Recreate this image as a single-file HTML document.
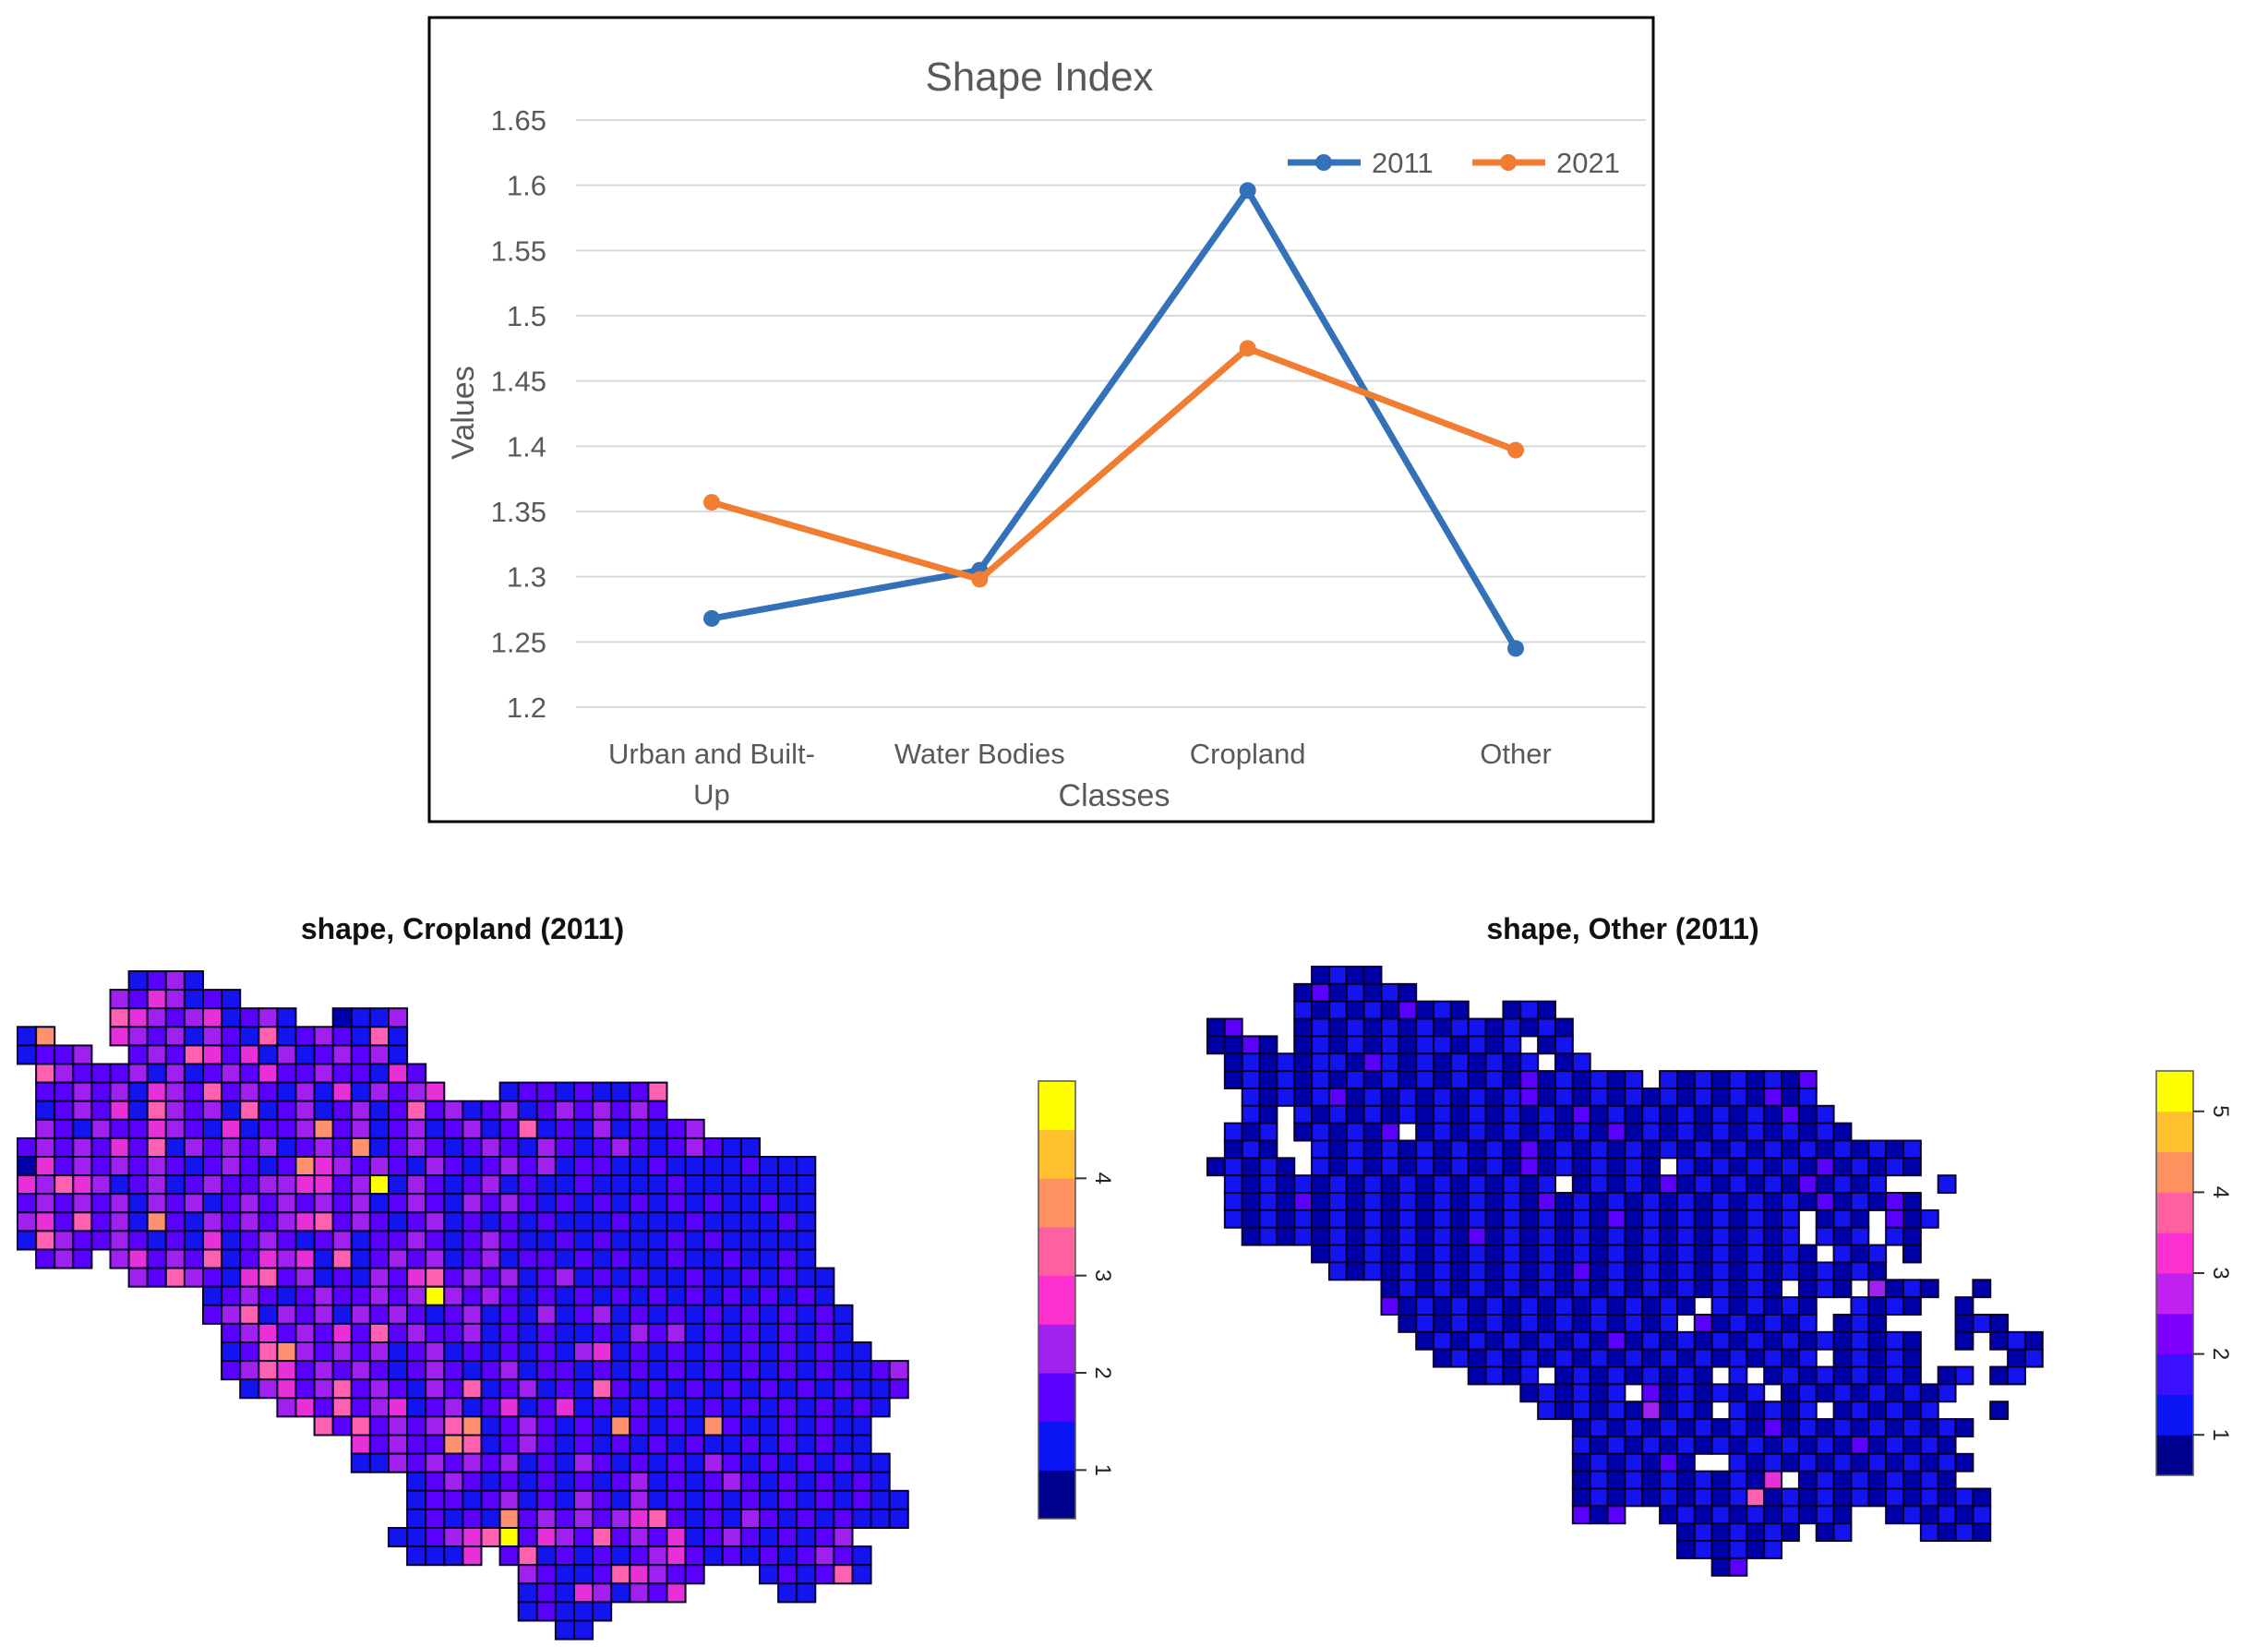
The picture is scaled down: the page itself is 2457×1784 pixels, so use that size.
<!DOCTYPE html>
<html><head><meta charset="utf-8"><style>
html,body{margin:0;padding:0;background:#fff;}
svg{display:block;font-family:"Liberation Sans",sans-serif;}
</style></head><body>
<svg id="root" width="2457" height="1784" viewBox="0 0 2457 1784" xmlns="http://www.w3.org/2000/svg">
<rect x="465" y="19" width="1326" height="871" fill="#fff" stroke="#000" stroke-width="3"/>
<g id="chart"></g>
<g id="mapL"></g>
<g id="mapR"></g>
</svg>
<script>
const categories = ["Urban and Built-Up", "Water Bodies", "Cropland", "Other"];
const series2011 = [1.268, 1.305, 1.596, 1.245];
const series2021 = [1.357, 1.298, 1.475, 1.397];
const yTicks = [1.2, 1.25, 1.3, 1.35, 1.4, 1.45, 1.5, 1.55, 1.6, 1.65];
const yTickLabels = ["1.2", "1.25", "1.3", "1.35", "1.4", "1.45", "1.5", "1.55", "1.6", "1.65"];

// cropland map: per row, column spans (grid indices) and cell value levels
const cropSpans = [
[[6,9]],[[5,11]],[[5,14],[17,20]],[[0,1],[5,20]],[[0,3],[6,20]],[[1,21]],[[1,22],[26,34]],[[1,34]],[[1,36]],[[0,39]],
[[0,42]],[[0,42]],[[0,42]],[[0,42]],[[0,42]],[[1,3],[5,42]],[[6,43]],[[10,43]],[[10,44]],[[11,44]],
[[11,45]],[[11,47]],[[12,47]],[[14,46]],[[16,45]],[[18,45]],[[18,46]],[[21,46]],[[21,47]],[[21,47]],
[[20,44]],[[21,24],[26,45]],[[27,36],[40,45]],[[27,35],[41,42]],[[27,31]],[[29,30]]
];
const cropValues = [
"......2342",
".....4354232",
".....6543452342..1224",
"27...5434243262343262",
"2334..343653524234342",
".643334242343533433253",
".3343425436343242524345...233232236",
".2343526434262342342363423423434343",
".432433543252334734234234236232423234",
"3434353624343423437234323432432343234322",
"1534343432343237543432432343423322322223222",
"5465423423433445534924323423223222232222222",
"3434342434234343434234324343232323232322322",
"4536342732434345634323423232322232223222232",
"2643343232523432342334323432232322232322222",
".343.45343623545262343423423323232232232232",
"......43643256342324356343423423232232232322",
"..........23432343343494343232323232323232323",
"..........34624342434323423242342323232323232",
"...........34534353634334232322324342323232323232",
"...........23674343423423232324523232323232322",
"...........3465343432343234233232323232323232234",
"............245346343243623423263232323232323223",
"..............453634523423523523232323232323232",
"................636343467234323273232732232322",
"..................5343376234323232323223232322",
"..................22434343423243232324323232322",
".....................23432323232342323432323232",
".....................233234232432423232323232322",
".....................232327343434563232432323222",
"....................223456935436343523432323423234",
".....................2225.36232323453232323432",
"...........................4322365433...232362",
"...........................232542435.....22",
"...........................23222",
".............................22"
];
const otherRows = [
"......1211",
".....1312121",
".....2121213121..121",
"13...1212121212212121",
"1131.1212121221212.12",
".121212213212121212.12",
".121212121212121213121212.212121213",
"..212123121212121231212121212121312",
"..21.2121212121212121312121212121312",
".212.121213.1212121212131212121212121",
".121..21212121212131212121212121212121212",
"12121.21212121212131212121.21212121312121",
".2121212121212121212.121213121212131212...2",
".2121312121212121213121212121212121312131",
".212121212121212121212131212121212.121.312",
"..12121212121213121212121212121212.212.21",
"......12121212121212121212121212121.212.1",
".......21212121212121312121212121212121",
"..........12121212121212121212121.121.4121..1",
"..........312121212121212121.212121..2121..1",
"...........1212121212121212.3121212.121....121",
"............12121212121312121212121212121..1.121",
".............1212121212121212121212.12121.....12",
"...............1212.121212121.2.121212121.12.12",
"..................121212.3121212.1212121212",
"...................2121214121.21212.121212...1",
".....................12121212121312121212121",
".....................2121212121212121312121",
".....................1212131..21212121212121",
".....................121212121215.121212121",
".....................121212121261212121212121",
".....................313..12121212121..121212",
"...........................1212121.12....2121",
"...........................121212",
".............................13"
];
const cropLegendTicks = [1, 2, 3, 4];
const otherLegendTicks = [1, 2, 3, 4, 5];

const NS = "http://www.w3.org/2000/svg";
function mk(tag, attrs, parent) {
  const e = document.createElementNS(NS, tag);
  for (const k in attrs) e.setAttribute(k, attrs[k]);
  parent.appendChild(e);
  return e;
}

// ---------- line chart ----------
const chart = document.getElementById("chart");
const catX = [771, 1061, 1352, 1642];
function yScale(v) { return 130 + (1.65 - v) / 0.45 * (766 - 130); }
function xScale(i) { return catX[0] + i * (catX[3] - catX[0]) / (categories.length - 1); }

yTicks.forEach((t, i) => {
  const g = mk("line", {x1: 624, x2: 1783, y1: yScale(t), y2: yScale(t), stroke: "#d9d9d9", "stroke-width": 2}, chart);
  
  
  const l = mk("text", {x: 592, y: yScale(t) + 11, "text-anchor": "end", "font-size": 31, fill: "#595959"}, chart);
  l.textContent = yTickLabels[i];
  
  
});

const title = mk("text", {x: 1126, y: 98, "text-anchor": "middle", "font-size": 44, fill: "#595959"}, chart);
title.textContent = "Shape Index";



categories.forEach((c, i) => {
  const parts = c === "Urban and Built-Up" ? ["Urban and Built-", "Up"] : [c];
  parts.forEach((p, j) => {
    const t = mk("text", {x: xScale(i), y: 827 + j * 44, "text-anchor": "middle", "font-size": 31, fill: "#595959"}, chart);
    t.textContent = p;
    
    
  });
});
const xt = mk("text", {x: 1207, y: 873, "text-anchor": "middle", "font-size": 34, fill: "#595959"}, chart);
xt.textContent = "Classes";


const yt = mk("text", {x: 0, y: 0, "text-anchor": "middle", "font-size": 34, fill: "#595959", transform: "translate(513,447) rotate(-90)"}, chart);
yt.textContent = "Values";



function drawSeries(vals, color, name) {
  const pts = vals.map((v, i) => xScale(i) + "," + yScale(v)).join(" ");
  const pl = mk("polyline", {points: pts, fill: "none", stroke: color, "stroke-width": 7, "stroke-linejoin": "round"}, chart);
  
  
  vals.forEach((v, i) => {
    const c = mk("circle", {cx: xScale(i), cy: yScale(v), r: 9, fill: color}, chart);
    
    
  });
}
drawSeries(series2011, "#3372B8", "2011");
drawSeries(series2021, "#F07D32", "2021");

[["2011", "#3372B8", 1395], ["2021", "#F07D32", 1595]].forEach(([n, col, x]) => {
  const g = mk("g", {}, chart);
  
  
  mk("line", {x1: x, x2: x + 79, y1: 176, y2: 176, stroke: col, "stroke-width": 7}, g);
  mk("circle", {cx: x + 39, cy: 176, r: 9, fill: col}, g);
  const t = mk("text", {x: x + 91, y: 187, "font-size": 31, fill: "#595959"}, g);
  t.textContent = n;
});

// ---------- maps ----------
const levelColors = {"1": "#0000A8", "2": "#1414F0", "3": "#5A00FF", "4": "#A020F0", "5": "#E830D8", "6": "#FF60B0", "7": "#FF9070", "8": "#FFBB30", "9": "#FFFF00"};

function addCell(g, x, y, cell, ch, name) {
  const rc = mk("rect", {x: x, y: y, width: cell, height: cell, fill: levelColors[ch], stroke: "#0a0030", "stroke-width": 2}, g);
  
  
}

// cropland: cells defined by spans; value from string (fallback '3' if missing)
(function () {
  const g = document.getElementById("mapL");
  const x0 = 19, y0 = 1052, cell = 20.1;
  cropSpans.forEach((spans, r) => {
    const vals = cropValues[r] || "";
    spans.forEach(([a, b]) => {
      for (let c = a; c <= b; c++) {
        let ch = vals[c];
        if (!ch || ch === ".") ch = "3";
        addCell(g, x0 + c * cell, y0 + r * cell, cell, ch, "cropland");
      }
    });
  });
})();

(function () {
  const g = document.getElementById("mapR");
  const x0 = 1308, y0 = 1047, cell = 18.85;
  otherRows.forEach((row, r) => {
    for (let c = 0; c < row.length; c++) {
      const ch = row[c];
      if (ch === ".") continue;
      addCell(g, x0 + c * cell, y0 + r * cell, cell, ch, "other");
    }
  });
})();

function drawLegend(parentId, x, yTop, yBot, vmin, vmax, colors, ticks, name) {
  const g = mk("g", {}, document.getElementById(parentId));
  
  
  const n = colors.length, h = (yBot - yTop) / n;
  colors.forEach((col, i) => {
    mk("rect", {x: x, y: yBot - (i + 1) * h, width: 40, height: h + 0.5, fill: col}, g);
  });
  mk("rect", {x: x, y: yTop, width: 40, height: yBot - yTop, fill: "none", stroke: "#555", "stroke-width": 1.5}, g);
  ticks.forEach(t => {
    const y = yBot - (t - vmin) / (vmax - vmin) * (yBot - yTop);
    mk("line", {x1: x + 40, x2: x + 52, y1: y, y2: y, stroke: "#333", "stroke-width": 2}, g);
    const tx = mk("text", {x: 0, y: 0, "text-anchor": "middle", "font-size": 24, fill: "#222", transform: "translate(" + (x + 62) + "," + y + ") rotate(90)"}, g);
    tx.textContent = t;
  });
}
drawLegend("mapL", 1125, 1171, 1645, 0.5, 5.0,
  ["#00008E", "#0A14F5", "#5A00FF", "#A020F0", "#FF30D0", "#FF60A0", "#FF9060", "#FFC030", "#FFFF00"], cropLegendTicks, "cropland-legend");
drawLegend("mapR", 2336, 1160, 1598, 0.5, 5.5,
  ["#00008E", "#0A14F5", "#3A10FF", "#8000FF", "#C020F0", "#FF30D0", "#FF60A0", "#FF9060", "#FFC030", "#FFFF00"], otherLegendTicks, "other-legend");

[["shape, Cropland (2011)", 501, "cropland-map-title"], ["shape, Other (2011)", 1758, "other-map-title"]].forEach(([s, x, n]) => {
  const t = mk("text", {x: x, y: 1017, "text-anchor": "middle", "font-size": 32, "font-weight": "bold", fill: "#111"}, document.getElementById("root"));
  t.textContent = s;
  
  
});
</script>
</body></html>
